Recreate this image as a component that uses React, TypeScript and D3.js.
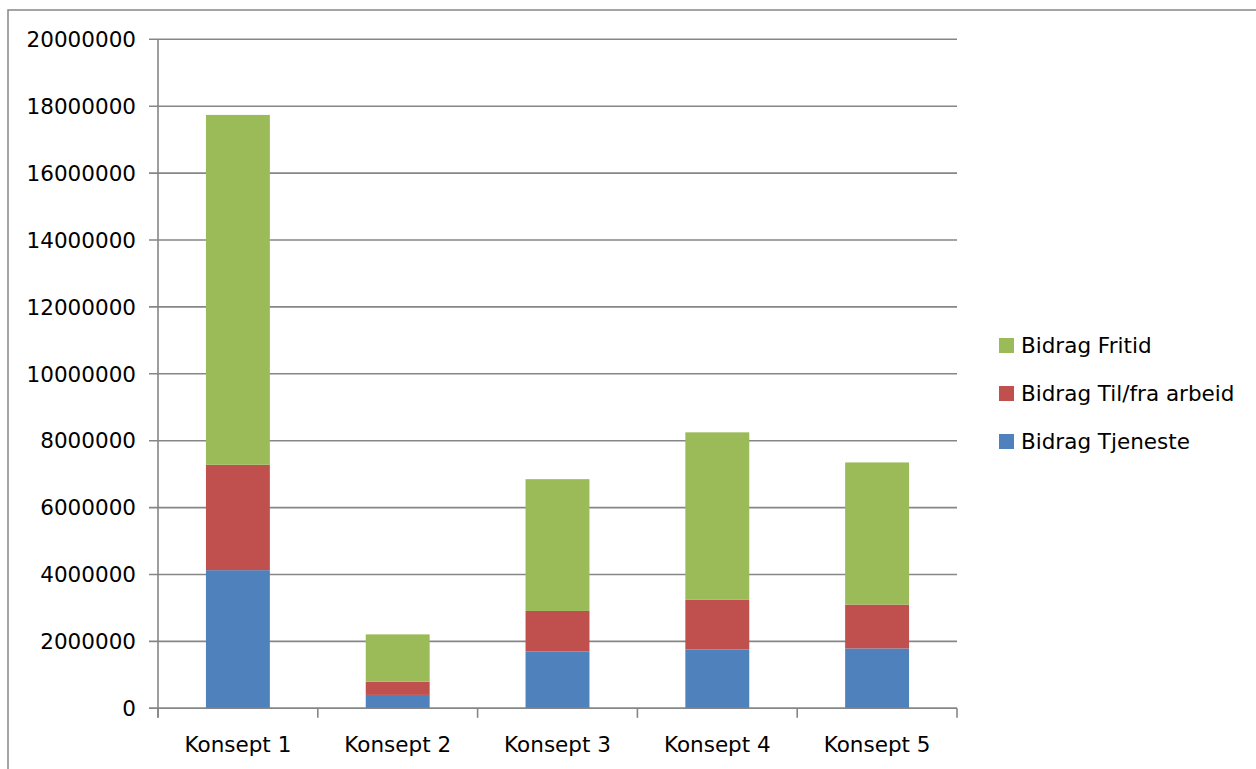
import React from "react";
import * as d3 from "d3";

const categories = ["Konsept 1", "Konsept 2", "Konsept 3", "Konsept 4", "Konsept 5"];
const seriesNames = ["Bidrag Tjeneste", "Bidrag Til/fra arbeid", "Bidrag Fritid"];
const tjeneste = [4130000, 400000, 1700000, 1760000, 1790000];
const tilFraArbeid = [3150000, 395000, 1210000, 1490000, 1310000];
const fritid = [10460000, 1415000, 3940000, 5000000, 4250000];
const yTicks = [0, 2000000, 4000000, 6000000, 8000000, 10000000, 12000000, 14000000, 16000000, 18000000, 20000000];
const colors = ["#4F81BD", "#C0504D", "#9BBB59"];

const W = 1256;
const H = 769;
const left = 158;
const right = 957;
const top = 39.3;
const bottom = 708.3;
const font = "'DejaVu Sans', sans-serif";
const fontSize = 21.5;
const grid = "#868686";

export default function App() {
  const x = d3.scaleBand<string>().domain(categories).range([left, right]).paddingInner(0.6).paddingOuter(0.3);
  const y = d3.scaleLinear().domain([0, 20000000]).range([bottom, top]);
  const rows = categories.map((c, i) => ({ c, s0: tjeneste[i], s1: tilFraArbeid[i], s2: fritid[i] }));
  const stack = d3.stack<any>().keys(["s0", "s1", "s2"])(rows);
  const step = (right - left) / categories.length;
  const boundaries = d3.range(categories.length + 1).map((i) => left + i * step);
  const legendOrder = [2, 1, 0];

  return (
    <svg width={W} height={H} style={{ position: "absolute", left: 0, top: 0, background: "#fff" }}>
      <rect x={8} y={10} width={W + 20} height={H + 20} fill="none" stroke={grid} strokeWidth={1.5} />
      {yTicks.map((t) => (
        <g key={t}>
          <line x1={149} x2={right} y1={y(t)} y2={y(t)} stroke={grid} strokeWidth={1.6} />
          <text x={136} y={y(t)} dy="0.36em" textAnchor="end" fontFamily={font} fontSize={fontSize} fill="#000">
            {t}
          </text>
        </g>
      ))}
      {stack.map((layer, si) =>
        layer.map((d, i) => (
          <rect
            key={`${si}-${i}`}
            x={x(categories[i])}
            width={x.bandwidth()}
            y={y(d[1])}
            height={y(d[0]) - y(d[1])}
            fill={colors[si]}
          />
        ))
      )}
      <line x1={left} x2={left} y1={top} y2={bottom + 9.5} stroke={grid} strokeWidth={1.6} />
      <line x1={149} x2={right} y1={bottom} y2={bottom} stroke={grid} strokeWidth={1.6} />
      {boundaries.map((b, i) => (
        <line key={i} x1={b} x2={b} y1={bottom} y2={bottom + 9.5} stroke={grid} strokeWidth={1.6} />
      ))}
      {categories.map((c) => (
        <text
          key={c}
          x={(x(c) as number) + x.bandwidth() / 2}
          y={752}
          textAnchor="middle"
          fontFamily={font}
          fontSize={fontSize}
          fill="#000"
        >
          {c}
        </text>
      ))}
      {legendOrder.map((si, k) => (
        <g key={si} transform={`translate(999, ${338 + k * 48})`}>
          <rect width={15} height={15} fill={colors[si]} />
          <text x={22} y={7.5} dy="0.36em" fontFamily={font} fontSize={fontSize} fill="#000">
            {seriesNames[si]}
          </text>
        </g>
      ))}
    </svg>
  );
}
